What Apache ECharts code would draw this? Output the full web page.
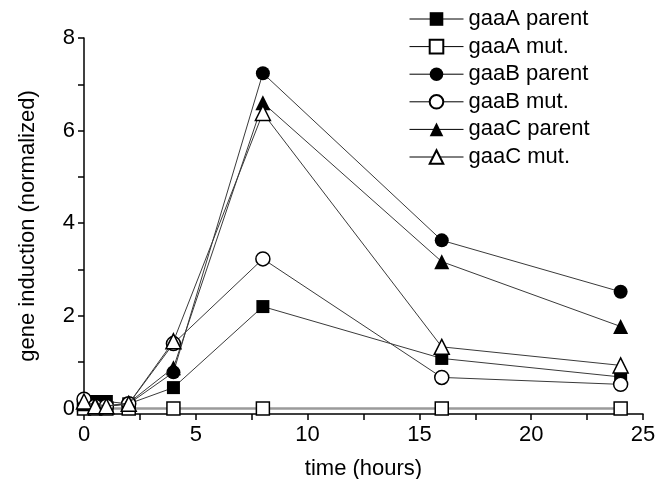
<!DOCTYPE html>
<html>
<head>
<meta charset="utf-8">
<script src="https://cdn.jsdelivr.net/npm/echarts@6/dist/echarts.min.js"></script>
<style>
html,body{margin:0;padding:0;background:#fff;}
#c{width:655px;height:479px;}
</style>
</head>
<body>
<div id="c"></div>
<script>
const times = [0, 0.5, 1, 2, 4, 8, 16, 24];
const seriesNames = ['gaaA parent', 'gaaA mut.', 'gaaB parent', 'gaaB mut.', 'gaaC parent', 'gaaC mut.'];
const gaaAParent = [0.10, 0.15, 0.15, 0.10, 0.45, 2.20, 1.08, 0.68];
const gaaAMut    = [0.00, 0.00, 0.00, 0.00, 0.00, 0.00, 0.00, 0.00];
const gaaBParent = [0.15, 0.10, 0.05, 0.10, 0.78, 7.24, 3.63, 2.52];
const gaaBMut    = [0.20, 0.05, 0.05, 0.10, 1.40, 3.23, 0.67, 0.52];
const gaaCParent = [0.10, 0.10, 0.05, 0.12, 0.88, 6.60, 3.17, 1.77];
const gaaCMut    = [0.15, 0.05, 0.05, 0.10, 1.45, 6.38, 1.33, 0.93];
const yTickValues = [0, 1, 2, 3, 4, 5, 6, 7, 8];
const yLabelValues = [0, 2, 4, 6, 8];
const xLabelValues = [0, 5, 10, 15, 20, 25];

const values = [gaaAParent, gaaAMut, gaaBParent, gaaBMut, gaaCParent, gaaCMut];
const symbols = ['rect', 'rect', 'circle', 'circle', 'triangle', 'triangle'];
const filled = [true, false, true, false, true, false];
const sizes = [13, 13, 14, 14, 15, 15];

const FONT = 'Liberation Sans, Arial, Helvetica, sans-serif';
const FS = 22;

const series = values.map((v, i) => ({
  name: seriesNames[i],
  type: 'line',
  data: times.map((t, j) => [t, v[j]]),
  symbol: symbols[i],
  symbolSize: sizes[i],
  showAllSymbol: true,
  itemStyle: {
    color: filled[i] ? '#000' : '#fff',
    borderColor: '#000',
    borderWidth: filled[i] ? 0 : 1.5
  },
  lineStyle: i === 1 ? {color: '#9a9a9a', width: 2.5} : {color: '#3a3a3a', width: 1},
  emphasis: {disabled: true},
  animation: false,
  z: 2 + i
}));

const chart = echarts.init(document.getElementById('c'), null, {renderer: 'canvas'});
chart.setOption({
  animation: false,
  backgroundColor: '#fff',
  textStyle: {fontFamily: FONT},
  grid: {left: 84, right: 12, top: 38, bottom: 65, containLabel: false, outerBoundsMode: 'none'},
  legend: {
    orient: 'vertical',
    left: 409,
    top: 8,
    padding: 0,
    itemWidth: 54,
    itemHeight: 17,
    itemGap: 5.6,
    data: seriesNames,
    lineStyle: {color: '#000', width: 1},
    textStyle: {fontFamily: FONT, fontSize: FS, color: '#000', lineHeight: 22},
    selectedMode: false
  },
  xAxis: {
    type: 'value',
    min: 0,
    max: 25,
    interval: 2.5,
    name: 'time (hours)',
    nameLocation: 'middle',
    nameGap: 44,
    nameTextStyle: {fontFamily: FONT, fontSize: FS, color: '#000'},
    axisLine: {onZero: false, lineStyle: {color: '#000', width: 1.5}},
    axisTick: {show: true, length: 6, lineStyle: {color: '#000', width: 1.5}},
    axisLabel: {
      fontFamily: FONT, fontSize: FS, color: '#000', margin: 10,
      formatter: v => (xLabelValues.indexOf(v) >= 0 ? String(v) : '')
    },
    splitLine: {show: false}
  },
  yAxis: {
    type: 'value',
    min: -0.12,
    max: 8,
    name: 'gene induction (normalized)',
    nameLocation: 'middle',
    nameGap: 45,
    nameTextStyle: {fontFamily: FONT, fontSize: FS, color: '#000'},
    axisLine: {onZero: false, lineStyle: {color: '#000', width: 1.5}},
    axisTick: {show: true, length: 6, customValues: yTickValues, lineStyle: {color: '#000', width: 1.5}},
    axisLabel: {fontFamily: FONT, fontSize: FS, color: '#000', margin: 9, customValues: yLabelValues},
    splitLine: {show: false}
  },
  series: series
});
</script>
</body>
</html>
